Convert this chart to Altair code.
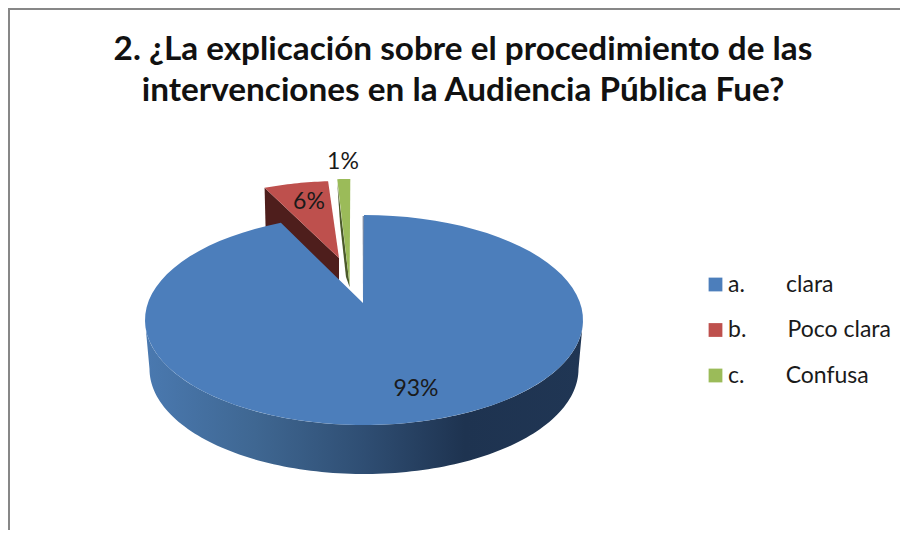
import numpy as np
import pandas as pd
import altair as alt

shares = [93, 6, 1]
pct_labels = ["93%", "6%", "1%"]
categories = ["a.\u00a0\u00a0\u00a0\u00a0\u00a0\u00a0\u00a0clara",
              "b.\u00a0\u00a0\u00a0\u00a0\u00a0\u00a0\u00a0Poco clara",
              "c.\u00a0\u00a0\u00a0\u00a0\u00a0\u00a0\u00a0Confusa"]
colors = ["#4C7EBB", "#BE504D", "#9BBB59"]
title_lines = ["2. ¿La explicación sobre el procedimiento de las",
               "intervenciones en la Audiencia Pública Fue?"]
FONT = "Lato"

A, B = 219, 105


def arc(cx, cy, a, b, t0, t1, n=90):
    t = np.radians(np.linspace(t0, t1, n))
    return list(zip(cx + a * np.sin(t), cy - b * np.cos(t)))


def poly(points, **extra):
    return pd.DataFrame([{"i": i, "px": p[0], "py": p[1], **extra} for i, p in enumerate(points)])


blue_end = shares[0] * 3.6 + 2.9
red_start = shares[0] * 3.6 + 4.5
red_end = red_start + shares[1] * 3.6 * 0.79
green_start = 360 - shares[2] * 3.6 * 0.95

blue_arc = arc(364, 320, A, B, 0.0, blue_end)
red_arc = arc(342, 286, A, B, red_start, red_end, 20)
green_arc = arc(350.3, 284, A, B, green_start, 360, 6)

blue_top = poly([(363, 303)] + blue_arc, cat=categories[0])
red_tip = (339, 258)
red_top = poly([red_tip] + red_arc, cat=categories[1])
green_tip = (349.6, 285)
green_top = poly([green_tip] + green_arc, cat=categories[2])
tops = pd.concat([blue_top, red_top, green_top])

blue_side = poly(arc(364, 320, A, B, 270, 90, 120) + arc(364, 369, 214.5, B, 90, 270, 120))
s = red_arc[0]
red_side = poly([s, red_tip, (339, 281), (s[0] + 1, s[1] + 40)])
g = green_arc[0]
green_side = poly([(g[0], g[1] + 3), green_tip, (349.6, 287), (346, 277), (340, 223)])
blue_wall = poly([(362.6, 216), (363, 303), (364, 303), (364, 216)])

X = alt.X("px:Q", scale=alt.Scale(domain=[8, 900], nice=False, zero=False), axis=None)
Y = alt.Y("py:Q", scale=alt.Scale(domain=[530, 8], nice=False, zero=False), axis=None)
ORD = alt.Order("i:Q")


def shape(df, fill):
    return alt.Chart(df).mark_line(fill=fill, stroke=None, strokeWidth=0, clip=False).encode(x=X, y=Y, order=ORD)


side_gradient = alt.Gradient(
    gradient="linear", x1=0, x2=1, y1=0, y2=0,
    stops=[alt.GradientStop(offset=0, color="#4A79B0"),
           alt.GradientStop(offset=0.25, color="#3F6792"),
           alt.GradientStop(offset=0.5, color="#2F4E73"),
           alt.GradientStop(offset=0.73, color="#1E3350"),
           alt.GradientStop(offset=1, color="#203654")])

frame_src = pd.DataFrame({"k": [0]})
frame_v = alt.Chart(frame_src).mark_rule(color="#878787", strokeWidth=2).encode(x=alt.value(1))
frame_h = alt.Chart(frame_src).mark_rule(color="#878787", strokeWidth=2).encode(y=alt.value(1))

top_layer = alt.Chart(tops).mark_line(strokeWidth=0, clip=False).encode(
    x=X, y=Y, order=ORD,
    fill=alt.Fill("cat:N",
                  scale=alt.Scale(domain=categories, range=colors),
                  legend=alt.Legend(title=None, orient="none", legendX=696, legendY=265,
                                    symbolType="square", symbolSize=190, symbolStrokeWidth=0,
                                    symbolOpacity=1, labelFont=FONT, labelFontSize=23,
                                    labelColor="#1a1a1a", labelOffset=1, rowPadding=21.5,
                                    labelLimit=300)))

labels = pd.DataFrame({"label": pct_labels, "px": [416, 309, 343], "py": [389, 202, 162]})
label_layer = alt.Chart(labels).mark_text(font=FONT, fontSize=23, color="#1a1a1a",
                                          align="center", baseline="middle").encode(
    x=X, y=Y, text="label:N")

chart = alt.layer(
    frame_v, frame_h,
    shape(red_side, "#4E1E1C"),
    shape(green_side, "#4B5A2A"),
    shape(blue_side, side_gradient),
    shape(blue_wall, "#7F8EA6"),
    top_layer,
    label_layer,
).properties(
    width=892, height=522, padding=0,
    autosize=alt.AutoSizeParams(type="none"),
    title=alt.TitleParams(text=title_lines, font=FONT, fontSize=33.3, fontWeight="bold",
                          color="#111111", anchor="middle", frame="group", lineHeight=41,
                          baseline="top", dy=101, dx=9, offset=0),
).configure_view(stroke=None).configure(background="white")

chart.save("out.html", embed_options={"renderer": "svg", "actions": False})
